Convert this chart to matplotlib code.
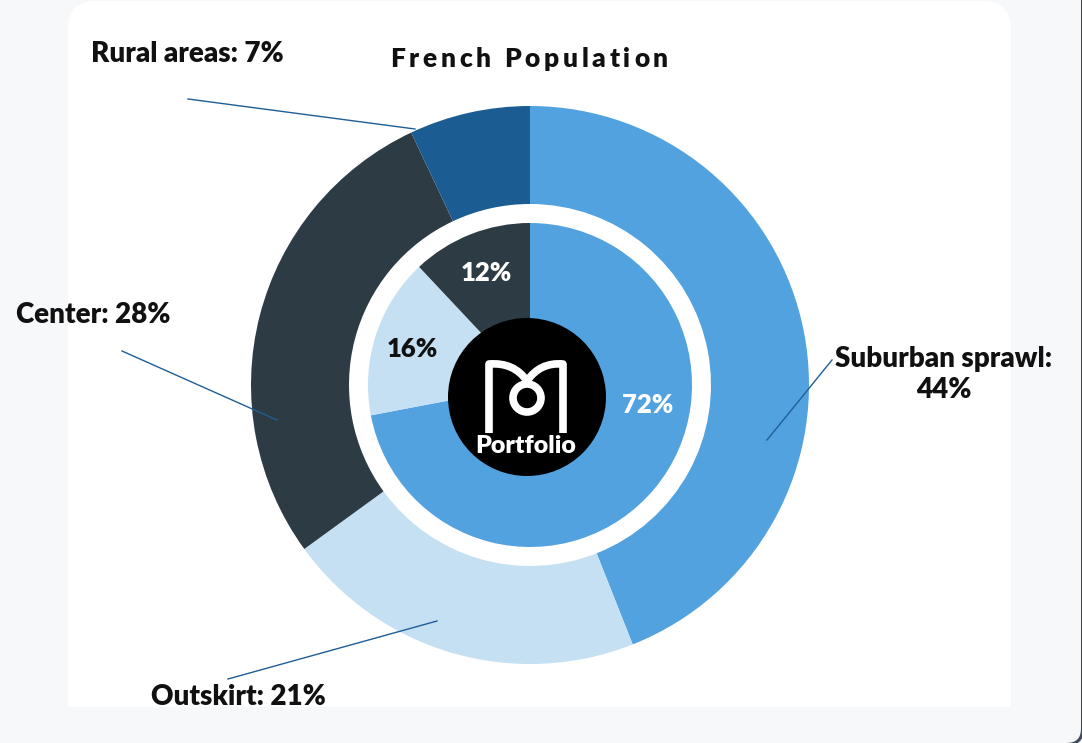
import matplotlib.pyplot as plt
from matplotlib.patches import FancyBboxPatch, Rectangle, Circle, PathPatch
from matplotlib.path import Path

plt.rcParams['font.family'] = ['Lato', 'DejaVu Sans']

W, H = 1082, 743

# outer ring
outer_names = ["Suburban sprawl", "Outskirt", "Center", "Rural areas"]
outer_values = [44, 21, 28, 7]
outer_colors = ["#52A2DF", "#C5DFF3", "#2D3B44", "#1B5C92"]

# inner ring
inner_values = [72, 16, 12]
inner_colors = ["#52A2DF", "#C5DFF3", "#2D3B44"]
inner_text_colors = ["white", "#111111", "white"]

title = "French Population"
line_color = "#1F5E97"
weight = 'heavy'


def py(y):
    # pixel row (from top) -> data y
    return H - y


fig = plt.figure(figsize=(W / 100, H / 100), dpi=100)
fig.patch.set_facecolor("#F7F8FA")
ax = fig.add_axes([0, 0, 1, 1])

# white card, rounded on top only
ax.add_patch(FancyBboxPatch((68, py(707)), 943, 706, boxstyle="round,pad=0,rounding_size=28",
                            facecolor="white", edgecolor="none", zorder=0))
ax.add_patch(Rectangle((68, py(707)), 943, 60, facecolor="white", edgecolor="none", zorder=0))
# dark frame corner bottom right
ax.add_patch(FancyBboxPatch((-60, -1.5), 1142.5, H + 80, boxstyle="round,pad=0,rounding_size=16",
                            facecolor="none", edgecolor="#3E4C57", linewidth=2.2, zorder=0))

cx, cy = 530, py(385)
ax.pie(outer_values, colors=outer_colors, startangle=90, counterclock=False,
       radius=279, center=(cx, cy), wedgeprops=dict(width=98, linewidth=0))
ax.pie(inner_values, colors=inner_colors, startangle=90, counterclock=False,
       radius=162, center=(cx, cy), wedgeprops=dict(width=110, linewidth=0))
ax.set_xlim(0, W)
ax.set_ylim(0, H)
ax.set_aspect('equal')
ax.axis('off')

# outer labels + leader lines
label_pos = {"Suburban sprawl": (944, 367), "Outskirt": (151, 705),
             "Center": (16, 323), "Rural areas": (91, 62)}
leaders = {"Suburban sprawl": ((832, 360), (767, 440)), "Outskirt": ((228, 679), (437, 621)),
           "Center": ((122, 351), (277, 420)), "Rural areas": ((188, 99), (415, 129))}
for name, val in zip(outer_names, outer_values):
    (x0, y0), (x1, y1) = leaders[name]
    ax.plot([x0, x1], [py(y0), py(y1)], color=line_color, lw=1, zorder=3)
    x, y = label_pos[name]
    if name == "Suburban sprawl":
        ax.text(x, py(y), f"{name}:", ha='center', va='baseline', fontsize=20,
                fontweight=weight, color="#111111", zorder=4)
        ax.text(x, py(y + 31), f"{val}%", ha='center', va='baseline', fontsize=20,
                fontweight=weight, color="#111111", zorder=4)
    else:
        ax.text(x, py(y), f"{name}: {val}%", ha='left', va='baseline', fontsize=20,
                fontweight=weight, color="#111111", zorder=4)

# inner labels
inner_pos = [(648, 413), (412, 357), (486, 281)]
for val, (x, y), c in zip(inner_values, inner_pos, inner_text_colors):
    ax.text(x, py(y), f"{val}%", ha='center', va='baseline', fontsize=18.5,
            fontweight=weight, color=c, zorder=4)

# title with letter spacing
r = fig.canvas.get_renderer()
chars = []
x = 0
for ch in title:
    if ch == " ":
        x += 9
        continue
    t = ax.text(x, py(67), ch, ha='left', va='baseline', fontsize=19,
                fontweight=weight, color="#111111", zorder=4)
    chars.append(t)
    x += t.get_window_extent(r).width + 3.8
shift = 529 - (x - 3.8) / 2
for t in chars:
    t.set_x(t.get_position()[0] + shift)

# logo in the middle
ax.add_patch(Circle((527, py(397)), 79, facecolor="black", edgecolor="none", zorder=5))
verts = [(489, 433), (489, 364), (514, 362), (527, 381),
         (563, 433), (563, 364), (540, 362), (527, 381)]
codes = [Path.MOVETO, Path.LINETO, Path.CURVE3, Path.CURVE3,
         Path.MOVETO, Path.LINETO, Path.CURVE3, Path.CURVE3]
verts = [(vx, py(vy)) for vx, vy in verts]
ax.add_patch(PathPatch(Path(verts, codes), facecolor="none", edgecolor="white",
                       linewidth=5.5, capstyle='butt', joinstyle='round', zorder=6))
ax.add_patch(Circle((527, py(398)), 14, facecolor="none", edgecolor="white",
                    linewidth=5.5, zorder=6))
ax.text(526, py(453), "Portfolio", ha='center', va='baseline', fontsize=18,
        fontweight=weight, color="white", zorder=7)

fig.savefig("out.png", dpi=100, facecolor=fig.get_facecolor())
